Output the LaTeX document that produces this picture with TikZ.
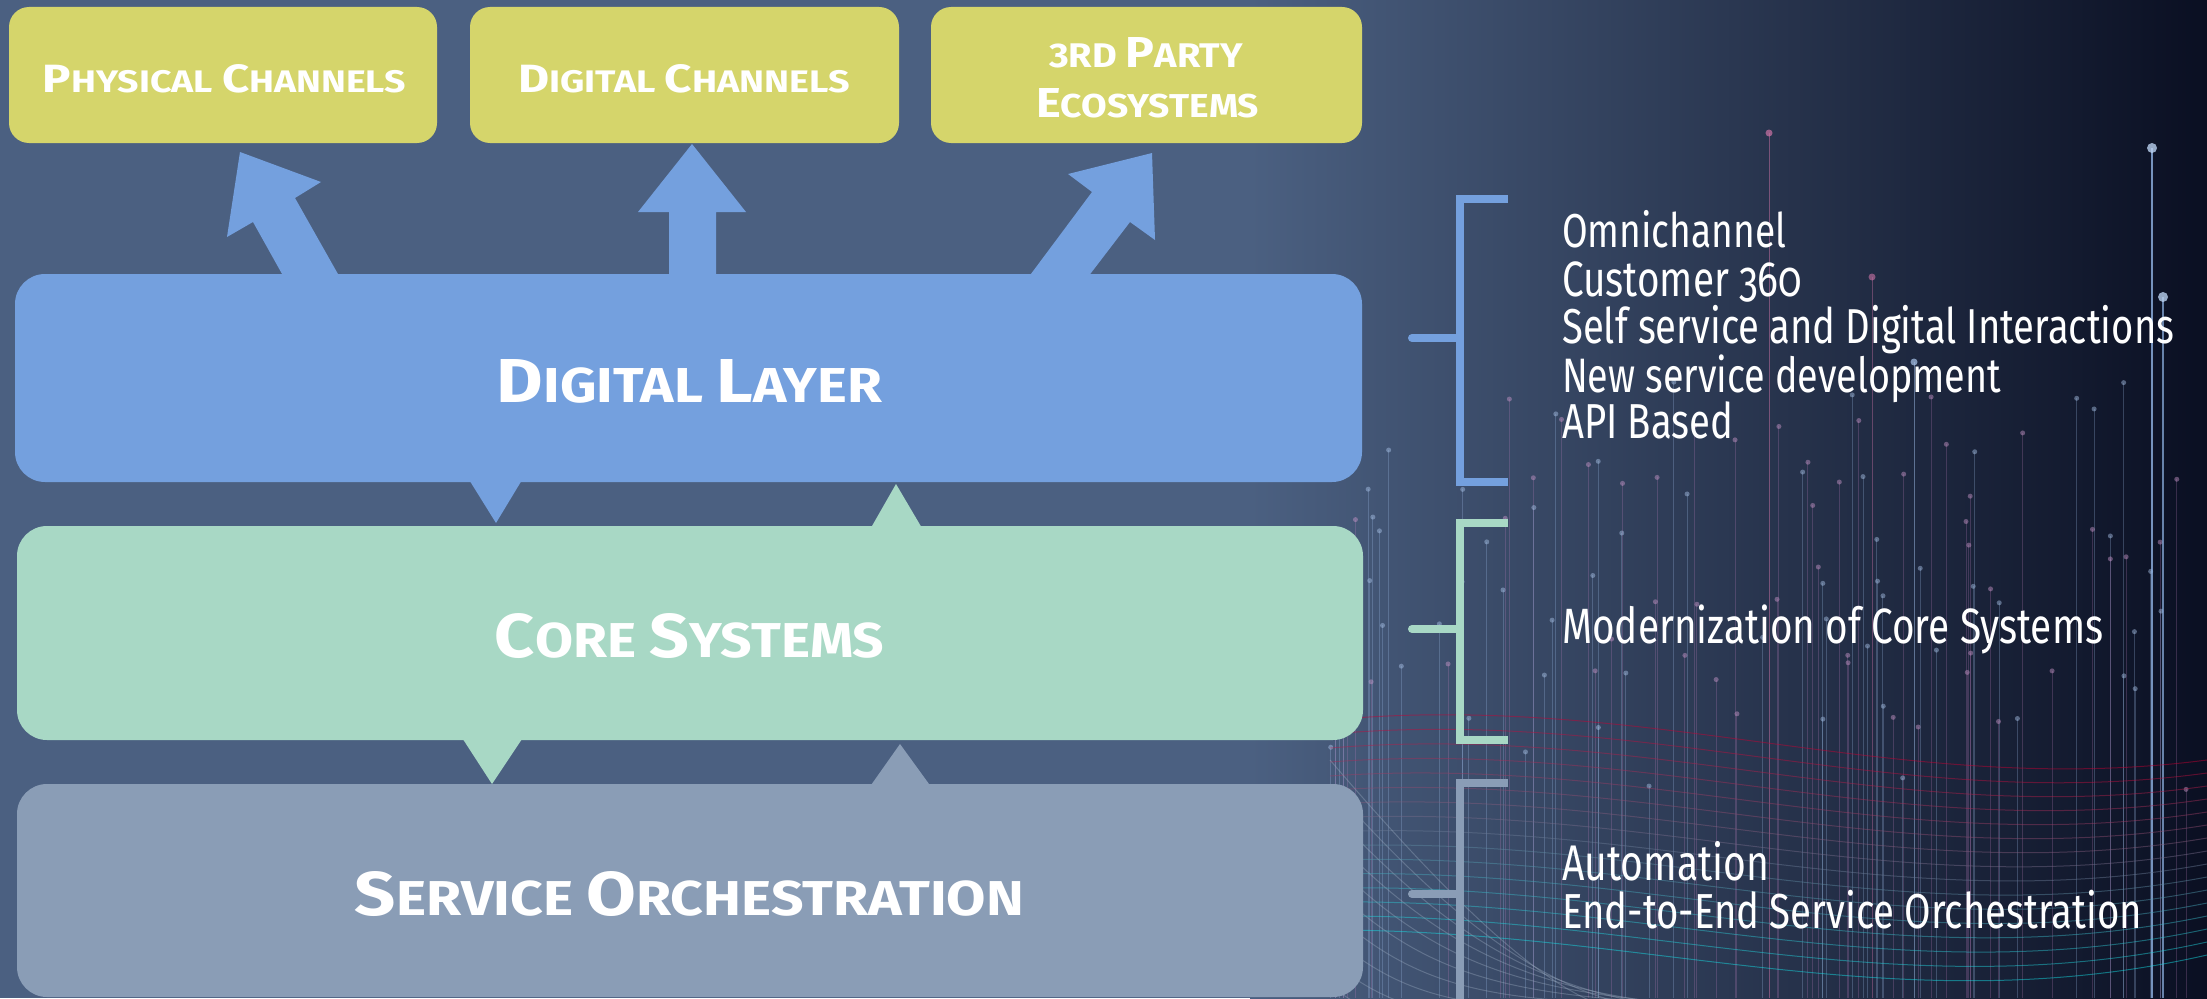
\documentclass[tikz,border=0pt]{standalone}
\usepackage{fontspec}
\usepackage{graphicx}
\setmainfont{Fira Sans}
\newfontfamily\hdrfont{Fira Sans}[FakeStretch=0.8]
\newfontfamily\bodyfont{Fira Sans}[FakeStretch=0.78,Numbers=OldStyle]
\definecolor{cBg}{HTML}{4B6081}
\definecolor{cDark}{HTML}{0A0F22}
\definecolor{cMid}{HTML}{22315A}
\definecolor{cYel}{HTML}{D5D56B}
\definecolor{cBlue}{HTML}{74A0DE}
\definecolor{cGreen}{HTML}{A8D8C5}
\definecolor{cGray}{HTML}{8A9DB6}
\newcommand\hsc[2]{{\fontsize{62}{62}\selectfont #1}{\fontsize{49}{49}\selectfont #2}}
\newcommand\hdr[3]{\resizebox{#1pt}{#2pt}{\hdrfont\bfseries\fontsize{49}{49}\selectfont #3}}
\newcommand\bodytxt[2]{\resizebox{#1pt}{!}{\bodyfont\fontsize{37}{37}\selectfont #2}}
\begin{document}
\begin{tikzpicture}[x=1pt,y=-1pt,
  chanbox/.style={fill=cYel, rounded corners=20pt, minimum height=136pt, inner sep=0pt},
  layerbox/.style={rounded corners=30pt, inner sep=0pt},
  hdrtxt/.style={anchor=base, text=white, inner sep=0pt},
  txt/.style={anchor=base west, text=white, inner sep=0pt},
  brk/.style={line width=8pt},
  deco/.style={line width=1pt}]
\useasboundingbox (0,0) rectangle (2207,998);
\clip (0,0) rectangle (2207,998);
% background
\fill[cBg] (0,0) rectangle (2207,998);
\shade[left color=cBg, middle color=cMid, right color=cDark] (1250,0) rectangle (2207,998);
% decorative texture
\pgfmathsetseed{11}
\foreach \i in {1,...,110}{
  \pgfmathsetmacro{\xx}{1330+rnd*870}
  \pgfmathsetmacro{\yy}{380+rnd*420}
  \pgfmathsetmacro{\cc}{rnd}
  \ifdim \cc pt < 0.5pt
    \draw[deco, draw=cBlue!70!white, opacity=0.28] (\xx,\yy) -- (\xx,998);
    \fill[cBlue!60!white, opacity=0.45] (\xx,\yy) circle (2.5);
  \else
    \draw[deco, draw=violet!50!white, opacity=0.25] (\xx,\yy) -- (\xx,998);
    \fill[violet!40!white, opacity=0.45] (\xx,\yy) circle (2.5);
  \fi
}
\draw[line width=1.5pt, cBlue!80!white, opacity=0.8] (2152,148) -- (2152,998);
\fill[cBlue!50!white, opacity=0.8] (2152,148) circle (5);
\draw[line width=1.5pt, cBlue!80!white, opacity=0.7] (2163,297) -- (2163,998);
\fill[cBlue!50!white, opacity=0.8] (2163,297) circle (5);
\draw[line width=1pt, pink!60!violet, opacity=0.5] (1769,133) -- (1769,998);
\fill[pink!60!violet, opacity=0.7] (1769,133) circle (3.5);
\draw[line width=1pt, pink!60!violet, opacity=0.4] (1872,277) -- (1872,998);
\fill[pink!60!violet, opacity=0.6] (1872,277) circle (3.5);
\draw[line width=1pt, cBlue!70!white, opacity=0.5] (1914,362) -- (1914,998);
\fill[cBlue!60!white, opacity=0.7] (1914,362) circle (3.5);
\foreach \k in {0,...,15}{
  \pgfmathsetmacro{\ya}{720+\k*14}
  \pgfmathsetmacro{\yb}{690+\k*16}
  \pgfmathsetmacro{\yc}{800+\k*15}
  \pgfmathsetmacro{\yd}{760+\k*13}
  \pgfmathtruncatemacro{\mix}{100-\k*6}
  \draw[deco, draw=red!60!violet!\mix!cyan, opacity=0.45]
    (1330,\ya) .. controls (1650,\yb) and (1900,\yc) .. (2207,\yd);
}
\foreach \k in {0,...,9}{
  \pgfmathsetmacro{\ya}{760+\k*25}
  \pgfmathsetmacro{\yb}{900+\k*20}
  \draw[deco, draw=cGray!80!white, opacity=0.35]
    (1330,\ya) .. controls (1450,\yb) and (1550,998) .. (1620+\k*40,1010);
}
% block arrows from the Digital Layer to the channels
\fill[cBlue] (291,290) -- (253,222) -- (227,237) -- (240,152) -- (321,182) -- (295,198) -- (347,290) -- cycle;
\fill[cBlue] (669,290) -- (669,212) -- (638,212) -- (692,144) -- (746,212) -- (716,212) -- (716,290) -- cycle;
\fill[cBlue] (1019,290) -- (1092,192) -- (1068,174) -- (1152,153) -- (1155,240) -- (1130,222) -- (1078,290) -- cycle;
% interface triangles
\fill[cBlue] (463,470) -- (528,470) -- (496,523) -- cycle;
\fill[cGreen] (864,540) -- (929,540) -- (896,484) -- cycle;
\fill[cGreen] (457,730) -- (528,730) -- (492,784) -- cycle;
\fill[cGray] (864,795) -- (937,795) -- (900,744) -- cycle;
% channel boxes
\node[chanbox, minimum width=428pt] (phys) at (223,75) {};
\node[chanbox, minimum width=429pt] (digch) at (684.5,75) {};
\node[chanbox, minimum width=431pt] (third) at (1146.5,75) {};
\node[hdrtxt] (physT) at (224.5,92) {\hdr{363}{28}{\hsc{P}{HYSICAL} \hsc{C}{HANNELS}}};
\node[hdrtxt] (digchT) at (684,92) {\hdr{332}{28}{\hsc{D}{IGITAL} \hsc{C}{HANNELS}}};
\node[hdrtxt] (thirdT1) at (1146,67) {\hdr{194}{30}{\hsc{}{3RD} \hsc{P}{ARTY}}};
\node[hdrtxt] (thirdT2) at (1147.5,117) {\hdr{223}{29}{\hsc{E}{COSYSTEMS}}};
% layer boxes
\node[layerbox, fill=cBlue, minimum width=1347pt, minimum height=208pt] (dl) at (688.5,378) {};
\node[layerbox, fill=cGreen, minimum width=1346pt, minimum height=214pt] (cs) at (690,633) {};
\node[layerbox, fill=cGray, minimum width=1346pt, minimum height=213pt] (so) at (690,890.5) {};
\node[hdrtxt] (dlT) at (689.5,402) {\hdr{385}{43}{\hsc{D}{IGITAL} \hsc{L}{AYER}}};
\node[hdrtxt] (csT) at (689.5,657) {\hdr{389}{44}{\hsc{C}{ORE} \hsc{S}{YSTEMS}}};
\node[hdrtxt] (soT) at (689.5,915) {\hdr{669}{44}{\hsc{S}{ERVICE} \hsc{O}{RCHESTRATION}}};
% brackets
\draw[brk, cBlue] (1508,199) -- (1460,199) -- (1460,482) -- (1508,482);
\draw[brk, cBlue, line cap=round] (1412,338) -- (1460,338);
\draw[brk, cGreen] (1508,523) -- (1460,523) -- (1460,740) -- (1508,740);
\draw[brk, cGreen, line cap=round] (1412,629) -- (1460,629);
\draw[brk, cGray] (1508,783) -- (1460,783) -- (1460,1010);
\draw[brk, cGray, line cap=round] (1412,894) -- (1460,894);
% descriptions
\node[txt] (d1) at (1562,247) {\bodytxt{224}{Omnichannel}};
\node[txt] (d2) at (1562,296) {\bodytxt{240}{Customer 360}};
\node[txt] (d3) at (1562,343) {\bodytxt{612}{Self service and Digital Interactions}};
\node[txt] (d4) at (1562,392) {\bodytxt{439}{New service development}};
\node[txt] (d5) at (1562,438) {\bodytxt{171}{API Based}};
\node[txt] (d6) at (1562,643) {\bodytxt{541}{Modernization of Core Systems}};
\node[txt] (d7) at (1562,880) {\bodytxt{207}{Automation}};
\node[txt] (d8) at (1562,928) {\bodytxt{580}{End-to-End Service Orchestration}};
\end{tikzpicture}
\end{document}
